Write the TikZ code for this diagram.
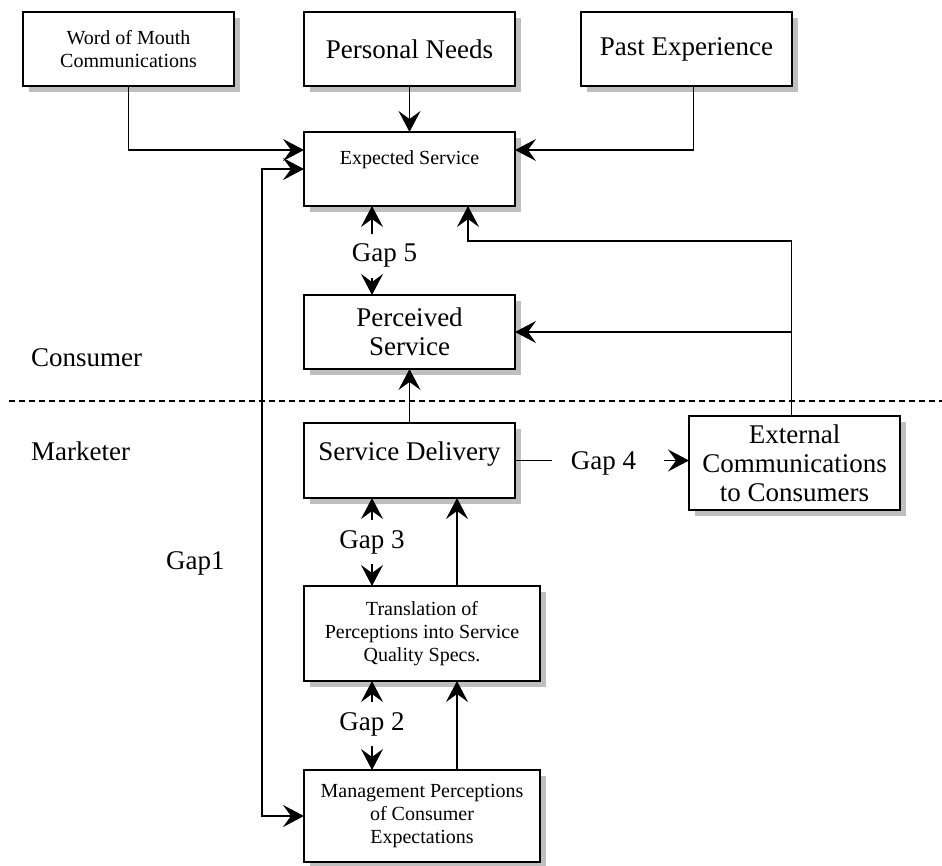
\documentclass[tikz,border=0pt]{standalone}
\usepackage{fontspec}
\setmainfont{Liberation Serif}
\usetikzlibrary{positioning,arrows.meta,shadows}
\newcommand{\bigtxt}{\fontsize{27}{29}\selectfont}
\newcommand{\smalltxt}{\fontsize{20}{23}\selectfont}

\begin{document}
\begin{tikzpicture}[x=1pt, y=-1pt,
    >={Stealth[length=21pt, width=22pt, inset=8pt]},
    box/.style={draw, line width=1.6pt, fill=white, align=center, inner sep=2pt, outer sep=0pt,
      minimum width=211pt, minimum height=#1, font=\bigtxt,
      drop shadow={shadow xshift=6pt, shadow yshift=-6pt, fill=black!25, opacity=1}},
    box/.default=74pt, wide/.style={minimum width=236pt}, small/.style={font=\smalltxt},
    gap/.style={font=\bigtxt, inner xsep=0pt, inner ysep=10pt, anchor=base},
    side/.style={font=\bigtxt, inner sep=0pt, anchor=base west},
    line/.style={line width=1.5pt}, arr/.style={line, ->}, dblarr/.style={line, <->},
    divider/.style={line width=1.3pt, dash pattern=on 6pt off 4pt}]
    \useasboundingbox (0,0) rectangle (942,866);
    \node[box] (needs) at (409.5,49) {Personal Needs};
    \node[box, small, left=70pt of needs] (wom) {Word of Mouth\\Communications};
    \node[box, right=66pt of needs] (past) {Past Experience};
    \node[box, small, text depth=22pt, below=46pt of needs] (expect) {Expected Service};
    \node[box, below=89pt of expect] (perceived) {Perceived\\Service};
    \node[box=75pt, text depth=19pt, below=54pt of perceived] (delivery) {Service Delivery};
    \node[box=94pt, right=174pt of delivery, yshift=-2.5pt] (extcom) {External\\Communications\\to Consumers};
    \node[box=95pt, wide, small, below=88pt of delivery, xshift=12.5pt] (transl) {Translation of\\Perceptions into Service\\Quality Specs.};
    \node[box=92pt, wide, small, below=89pt of transl] (mgmt) {Management Perceptions\\of Consumer\\Expectations};
    \node[side] (consumer) at (31,366.7) {Consumer};
    \node[side] (marketer) at (31,460.7) {Marketer};
    \node[side] (gap1) at (166,569) {Gap1};
    \node[gap] (gap5) at (384.5,262) {Gap 5};
    \node[gap] (gap3) at (372,548) {Gap 3};
    \node[gap] (gap2) at (372,730) {Gap 2};
    \node[gap] (gap4) at (603.5,469) {Gap 4};
    \coordinate (divl) at (9,401); \coordinate (divr) at (942,401);
    \coordinate (fb) at (468,241);
    \draw[divider] (divl) -- (divr);
    \draw[arr] (wom.south) |- ([yshift=19pt]expect.west);
    \draw[arr] (needs.south) -- (expect.north);
    \draw[arr] ([xshift=7pt]past.south) |- ([yshift=19pt]expect.east);
    \draw[dblarr] (expect.west) -- ++(-42,0) |- (mgmt.west);
    \draw[arr] ([xshift=-12.5pt]gap5.north) -- ([xshift=-12.5pt]gap5.north |- expect.south);
    \draw[arr] ([xshift=-12.5pt]gap5.south) -- ([xshift=-12.5pt]gap5.south |- perceived.north);
    \draw[arr] ([xshift=-3pt]extcom.north) |- (fb) -- (fb |- expect.south);
    \draw[arr] ([xshift=-3pt]extcom.north |- perceived.east) -- (perceived.east);
    \draw[arr] (delivery.north) -- (perceived.south);
    \draw[line] (delivery.east) -- ([xshift=-19pt]gap4.west |- delivery.east);
    \draw[arr] ([xshift=28pt]gap4.east |- delivery.east) -- (extcom.west |- delivery.east);
    \draw[arr] (gap3.north) -- (gap3.north |- delivery.south);
    \draw[arr] (gap3.south) -- (gap3.south |- transl.north);
    \draw[arr] ([xshift=35pt]transl.north) -- ([xshift=35pt]transl.north |- delivery.south);
    \draw[arr] (gap2.north) -- (gap2.north |- transl.south);
    \draw[arr] (gap2.south) -- (gap2.south |- mgmt.north);
    \draw[arr] ([xshift=35pt]mgmt.north) -- ([xshift=35pt]transl.south);
  \end{tikzpicture}
\end{document}
